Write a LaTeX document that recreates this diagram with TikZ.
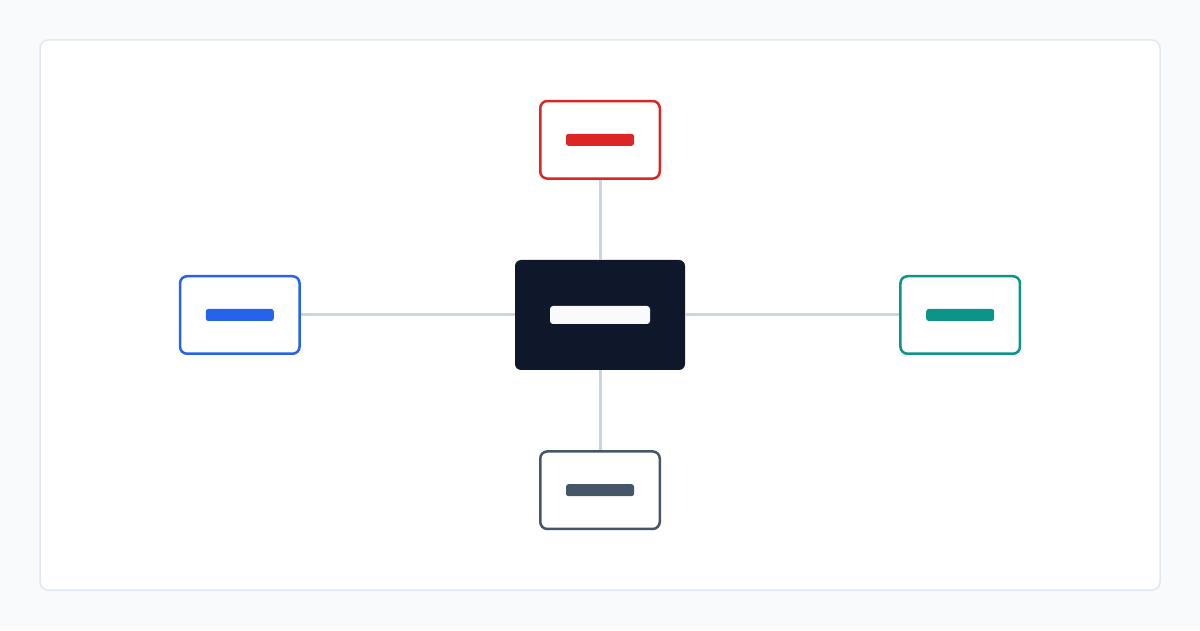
\documentclass[tikz,border=0pt]{standalone}
\usepackage{xcolor}
\definecolor{pagebg}{RGB}{248, 250, 252}
\definecolor{cardline}{RGB}{226, 232, 240}
\definecolor{link}{RGB}{203, 213, 225}
\definecolor{navy}{RGB}{15, 23, 42}
\definecolor{crimson}{RGB}{220, 38, 38}
\definecolor{royal}{RGB}{37, 99, 235}
\definecolor{tealish}{RGB}{13, 148, 136}
\definecolor{slate}{RGB}{71, 85, 105}
\usetikzlibrary{positioning}
\tikzset{
  hub/.style = {
    fill=navy,
    rounded corners=6pt,
    minimum width=170pt,
    minimum height=110pt,
    inner sep=0pt
  },
  leaf/.style = {
    draw=#1,
    fill=white,
    line width=2.5pt,
    rounded corners=7pt,
    minimum width=119.5pt,
    minimum height=77.5pt,
    inner sep=0pt
  },
  bar/.style = {
    fill=#1,
    rounded corners=2.5pt,
    minimum width=68pt,
    minimum height=12pt,
    inner sep=0pt
  },
  link/.style = {
    draw=link,
    line width=3pt
  },
}

\begin{document}
\begin{tikzpicture}[x=1pt, y=1pt, node distance=80pt and 214pt]
    \useasboundingbox[fill=pagebg] (0,0) rectangle (1200,630);
    \draw[cardline, fill=white, line width=1.5pt, rounded corners=8pt] (40,40) rectangle (1160,590);
    \node[hub] (core) at (600,315) {};
    \node[bar=pagebg, minimum width=100pt, minimum height=18pt, rounded corners=3pt] (corebar) at (core) {};
    \node[leaf=crimson, above=of core] (north) {};
    \node[leaf=slate, below=of core]   (south) {};
    \node[leaf=royal, left=of core]    (west)  {};
    \node[leaf=tealish, right=of core] (east)  {};
    \node[bar=crimson] (northbar) at (north) {};
    \node[bar=slate]   (southbar) at (south) {};
    \node[bar=royal]   (westbar)  at (west)  {};
    \node[bar=tealish] (eastbar)  at (east)  {};
    \draw[link] (core) -- (north);
    \draw[link] (core) -- (south);
    \draw[link] (core) -- (west);
    \draw[link] (core) -- (east);
\end{tikzpicture}
\end{document}
